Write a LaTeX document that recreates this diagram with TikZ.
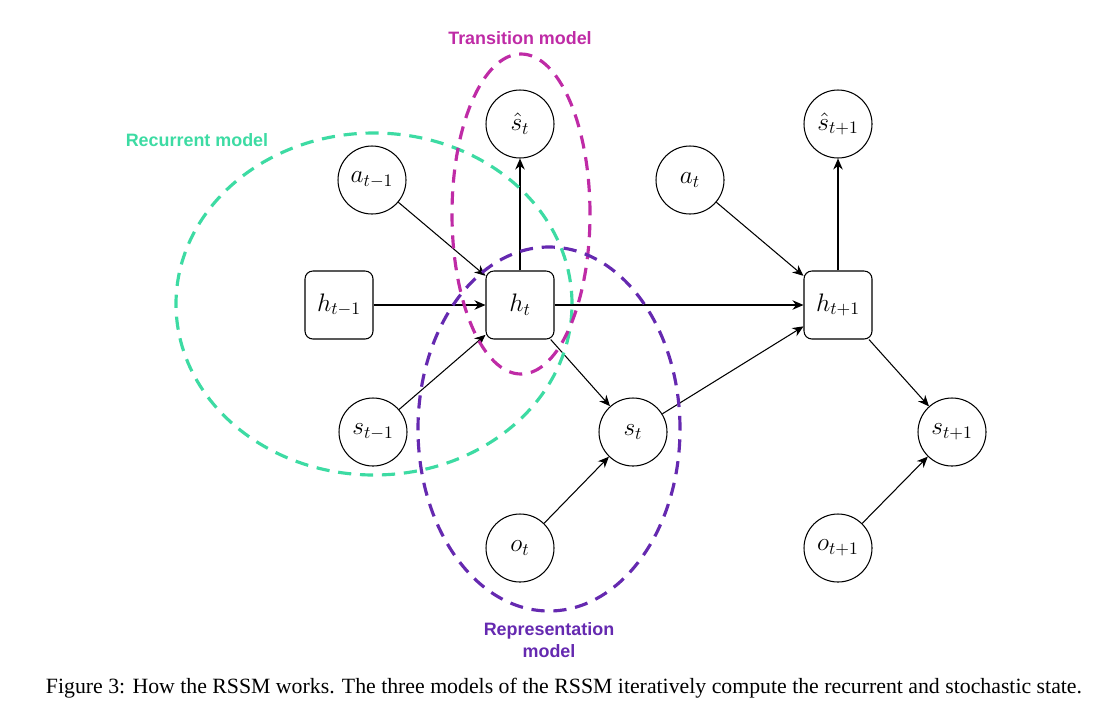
\documentclass[tikz,border=0pt]{standalone}
\usepackage{fontspec}
\newfontfamily\labelfont{Liberation Sans}
\newfontfamily\capfont{Liberation Serif}
\usetikzlibrary{positioning,arrows.meta}
\definecolor{recgreen}{HTML}{3DDBA3}
\definecolor{transmag}{HTML}{BF2BA6}
\definecolor{reppurple}{HTML}{6529B0}

\begin{document}
\begin{tikzpicture}[font=\fontsize{14}{16}\selectfont, line width=0.6pt,
  sv/.style={circle, draw, minimum size=13.6mm, inner sep=0pt},
  hv/.style={rectangle, rounded corners=4.5pt, draw, minimum size=13.6mm, inner sep=0pt},
  e/.style={-{Stealth[length=2.2mm, width=1.9mm]}},
  grp/.style={line width=1.8pt, dash pattern=on 7.5pt off 5pt},
  gl/.style={font=\labelfont\bfseries\fontsize{10.2}{13}\selectfont, align=center}]
\useasboundingbox (0,0) rectangle (22.26,-14.54);
\node[hv] (h0) at (6.78,-6.10) {$h_{t-1}$};
\node[hv] (h1) at (10.40,-6.10) {$h_t$};
\node[hv] (h2) at (16.76,-6.10) {$h_{t+1}$};
\node[sv] (sh1) at (10.40,-2.48) {$\hat{s}_t$};
\node[sv] (sh2) at (16.76,-2.48) {$\hat{s}_{t+1}$};
\node[sv] (a0) at (7.44,-3.60) {$a_{t-1}$};
\node[sv] (a1) at (13.80,-3.60) {$a_t$};
\node[sv] (s0) at (7.46,-8.64) {$s_{t-1}$};
\node[sv] (s1) at (12.66,-8.64) {$s_t$};
\node[sv] (s2) at (19.04,-8.64) {$s_{t+1}$};
\node[sv] (o1) at (10.40,-10.96) {$o_t$};
\node[sv] (o2) at (16.76,-10.96) {$o_{t+1}$};
\draw[e] (h0)--(h1); \draw[e] (a0)--(h1); \draw[e] (s0)--(h1);
\draw[e] (h1)--(sh1); \draw[e] (h1)--(s1); \draw[e] (o1)--(s1);
\draw[e] (h1)--(h2); \draw[e] (a1)--(h2); \draw[e] (s1)--(h2);
\draw[e] (h2)--(sh2); \draw[e] (h2)--(s2); \draw[e] (o2)--(s2);
\draw[grp, recgreen] (7.48,-6.08) ellipse [x radius=3.96, y radius=3.42];
\draw[grp, transmag] (10.42,-4.28) ellipse [x radius=1.38, y radius=3.20];
\draw[grp, reppurple] (10.98,-8.58) ellipse [x radius=2.62, y radius=3.64];
\node[gl, text=recgreen] (lrec) at (3.94,-2.80) {Recurrent model};
\node[gl, text=transmag] (ltra) at (10.40,-0.76) {Transition model};
\node[gl, text=reppurple] (lrep) at (10.98,-12.80) {Representation\\model};
\node[font=\capfont\fontsize{12.4}{15}\selectfont] (cap) at (11.28,-13.76) {Figure 3: How the RSSM works. The three models of the RSSM iteratively compute the recurrent and stochastic state.};
\end{tikzpicture}
\end{document}
